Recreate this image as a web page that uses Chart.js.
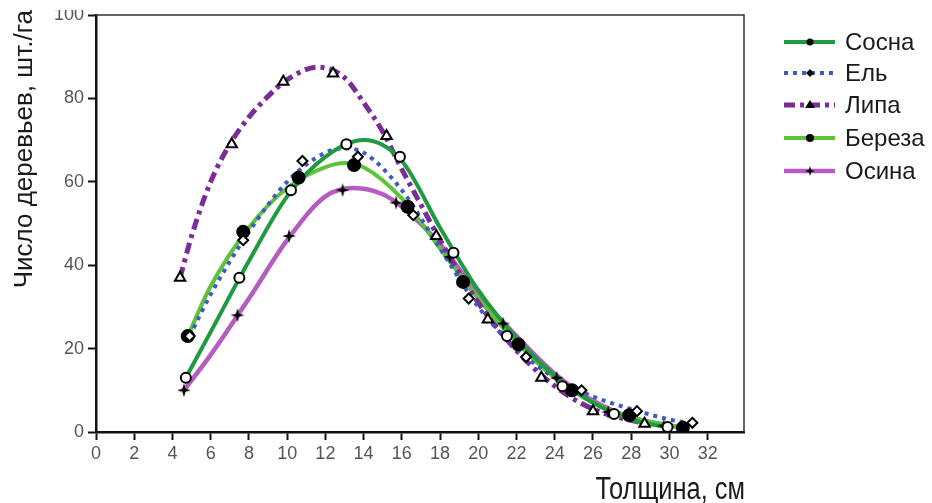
<!DOCTYPE html>
<html>
<head>
<meta charset="utf-8">
<script src="https://cdn.jsdelivr.net/npm/chart.js@4"></script>
<style>
  html, body { margin: 0; padding: 0; background: #fff; }
  #wrap { width: 932px; height: 503px; }
</style>
</head>
<body>
<div id="wrap"><canvas id="chartTrees" width="932" height="503"></canvas></div>
<script>
// точки (маркеры)
const sosnaX = [4.7, 7.5, 10.2, 13.1, 15.9, 18.7, 21.5, 24.4, 27.1, 29.9];
const sosnaY = [13, 37, 58, 69, 66, 43, 23, 11, 4.3, 1.2];
const elX = [4.9, 7.7, 10.8, 13.7, 16.6, 19.5, 22.5, 25.4, 28.3, 31.2];
const elY = [23, 46, 65, 66, 52, 32, 18, 10, 5, 2.2];
const lipaX = [4.4, 7.1, 9.8, 12.4, 15.2, 17.8, 20.5, 23.3, 26.0, 28.7];
const lipaY = [37, 69, 84, 86, 71, 47, 27, 13, 5, 2];
const berezaX = [4.8, 7.7, 10.6, 13.5, 16.3, 19.2, 22.1, 24.9, 27.9, 30.7];
const berezaY = [23, 48, 61, 64, 54, 36, 21, 10, 4, 1];
const osinaX = [4.6, 7.4, 10.1, 12.9, 15.7, 18.5, 21.3, 24.1, 26.8, 29.7];
const osinaY = [10, 28, 47, 58, 55, 42, 26, 13, 4.8, 1.5];

// сглаженные кривые
const sosnaCurveX = [4.7, 6, 8, 10, 12, 14, 16, 18, 20, 22, 24, 26, 28, 30];
const sosnaCurveY = [13, 24, 41, 56.5, 66, 70, 65, 49, 34, 22.5, 13.5, 7, 3, 1];
const elCurveX = [4.9, 6, 8, 10, 12, 13, 14, 16, 18, 20, 22, 24, 26, 28, 30, 31.2];
const elCurveY = [23, 33, 48, 60, 67, 68, 67, 58, 44, 30, 20, 13, 8.5, 5.5, 3, 2];
const lipaCurveX = [4.4, 5, 6, 7, 8, 9, 10, 11.6, 13, 14, 15, 16, 17, 18, 20, 22, 24, 26, 28.7];
const lipaCurveY = [37, 47, 60, 69, 75.5, 80.5, 84.5, 87.5, 85, 79, 72, 63, 54.5, 46, 31, 19.5, 11, 5.5, 2];
const berezaCurveX = [4.8, 6, 8, 10, 12, 13, 14, 16, 18, 20, 22, 24, 26, 28, 30.7];
const berezaCurveY = [23, 35, 49, 58.5, 63.5, 64.5, 63.5, 56, 44, 32, 21.5, 13, 7, 3.5, 1];
const osinaCurveX = [4.6, 6, 8, 10, 12, 13.5, 15, 16, 18, 20, 22, 24, 26, 28, 30.7];
const osinaCurveY = [10, 18.5, 32, 46, 56.5, 58.5, 57, 54, 45, 33, 23, 14, 7.5, 3.5, 1];

const xTicks = [0, 2, 4, 6, 8, 10, 12, 14, 16, 18, 20, 22, 24, 26, 28, 30, 32];
const yTicks = [0, 20, 40, 60, 80, 100];
const names = ["Сосна", "Ель", "Липа", "Береза", "Осина"];

const pts = (xs, ys) => xs.map((x, i) => ({ x, y: ys[i] }));

function starImg(r) {
  const c = document.createElement("canvas");
  c.width = c.height = r * 2 + 2;
  const g = c.getContext("2d");
  const m = r + 1, ir = r * 0.32;
  g.beginPath();
  for (let i = 0; i < 8; i++) {
    const a = -Math.PI / 2 + i * Math.PI / 4;
    const rr = i % 2 === 0 ? r : ir;
    g.lineTo(m + rr * Math.cos(a), m + rr * Math.sin(a));
  }
  g.closePath();
  g.fillStyle = "#000";
  g.fill();
  return c;
}
const star = starImg(7);
const starSmall = starImg(5);

const series = [
  { name: names[0], color: "#1f9a3e", dash: [], width: 4, cx: sosnaCurveX, cy: sosnaCurveY, px: sosnaX, py: sosnaY,
    ps: "circle", pr: 5, bg: "#fff" },
  { name: names[1], color: "#3d5cc0", dash: [4, 5], width: 4, cx: elCurveX, cy: elCurveY, px: elX, py: elY,
    ps: "rectRot", pr: 5, bg: "#fff" },
  { name: names[2], color: "#7b2d97", dash: [11, 5, 4, 5], width: 5, cx: lipaCurveX, cy: lipaCurveY, px: lipaX, py: lipaY,
    ps: "triangle", pr: 6, bg: "#fff" },
  { name: names[3], color: "#5dc43a", dash: [], width: 4, cx: berezaCurveX, cy: berezaCurveY, px: berezaX, py: berezaY,
    ps: "circle", pr: 6, bg: "#000" },
  { name: names[4], color: "#b45cbf", dash: [], width: 4.5, cx: osinaCurveX, cy: osinaCurveY, px: osinaX, py: osinaY,
    ps: star, pr: 7, bg: "#000" },
];

const datasets = [];
series.forEach((s) => {
  datasets.push({
    label: s.name, data: pts(s.cx, s.cy), showLine: true, borderColor: s.color, borderWidth: s.width,
    borderDash: s.dash, pointRadius: 0, cubicInterpolationMode: "monotone", order: 2,
  });
});
series.forEach((s) => {
  datasets.push({
    label: s.name + " точки", data: pts(s.px, s.py), showLine: false, pointStyle: s.ps, pointRadius: s.pr,
    pointBackgroundColor: s.bg, pointBorderColor: "#000", pointBorderWidth: 2, order: 1,
  });
});

const decor = {
  id: "decor",
  beforeDatasetsDraw(chart) {
    const { ctx, chartArea: a } = chart;
    ctx.save();
    ctx.strokeStyle = "#333";
    ctx.lineWidth = 1.5;
    ctx.beginPath();
    ctx.moveTo(a.left, a.top);
    ctx.lineTo(a.right, a.top);
    ctx.lineTo(a.right, a.bottom);
    ctx.stroke();
    ctx.restore();
  },
  afterDraw(chart) {
    const ctx = chart.ctx;
    ctx.save();
    // верх подписи "100" срезан, как в оригинале
    ctx.fillStyle = "#fff";
    ctx.fillRect(50, 0, 40, 10);
    // легенда
    const rows = [42, 73, 105, 138, 171];
    series.forEach((s, i) => {
      const y = rows[i];
      ctx.strokeStyle = s.color;
      ctx.lineWidth = s.width;
      ctx.setLineDash(s.dash);
      ctx.beginPath();
      ctx.moveTo(784, y);
      ctx.lineTo(835, y);
      ctx.stroke();
      ctx.setLineDash([]);
      ctx.fillStyle = "#000";
      const mx = 810;
      if (i === 4) {
        ctx.drawImage(starSmall, mx - 6, y - 6);
      } else if (i === 2) {
        ctx.beginPath();
        ctx.moveTo(mx, y - 5);
        ctx.lineTo(mx + 5, y + 3);
        ctx.lineTo(mx - 5, y + 3);
        ctx.closePath();
        ctx.fill();
      } else if (i === 1) {
        ctx.beginPath();
        ctx.moveTo(mx, y - 4);
        ctx.lineTo(mx + 4, y);
        ctx.lineTo(mx, y + 4);
        ctx.lineTo(mx - 4, y);
        ctx.closePath();
        ctx.fill();
      } else {
        ctx.beginPath();
        ctx.arc(mx, y, i === 0 ? 3.5 : 4, 0, Math.PI * 2);
        ctx.fill();
      }
      ctx.fillStyle = "#1a1a1a";
      ctx.font = "24px 'Liberation Sans', Arial, sans-serif";
      ctx.textAlign = "left";
      ctx.textBaseline = "middle";
      ctx.fillText(s.name, 845, y + 1);
    });
    // подписи осей
    ctx.fillStyle = "#1a1a1a";
    ctx.save();
    ctx.translate(745, 499);
    ctx.scale(0.82, 1);
    ctx.font = "31px 'Liberation Sans', Arial, sans-serif";
    ctx.textAlign = "right";
    ctx.textBaseline = "alphabetic";
    ctx.fillText("Толщина, см", 0, 0);
    ctx.restore();
    ctx.translate(32, 10);
    ctx.rotate(-Math.PI / 2);
    ctx.font = "26px 'Liberation Sans', Arial, sans-serif";
    ctx.textAlign = "right";
    ctx.textBaseline = "alphabetic";
    ctx.fillText("Число деревьев, шт./га", 0, 0);
    ctx.restore();
  },
};

const tickFont = { family: "'Liberation Sans Narrow', 'Liberation Sans', sans-serif", size: 18 };

new Chart(document.getElementById("chartTrees").getContext("2d"), {
  type: "scatter",
  data: { datasets },
  options: {
    responsive: false,
    devicePixelRatio: 1,
    animation: false,
    layout: { padding: { left: 0, right: 188, top: 15, bottom: 0 } },
    plugins: { legend: { display: false }, tooltip: { enabled: false } },
    scales: {
      x: {
        type: "linear", min: 0, max: 33.9,
        afterBuildTicks: (sc) => { sc.ticks = xTicks.map((v) => ({ value: v })); },
        afterFit: (sc) => { sc.height = 71; },
        ticks: { font: tickFont, color: "#555", padding: 3, maxRotation: 0, autoSkip: false },
        grid: { drawOnChartArea: false, drawTicks: true, tickLength: 8, tickColor: "#111", tickWidth: 2 },
        border: { color: "#111", width: 2.5 },
      },
      y: {
        type: "linear", min: 0, max: 100,
        afterBuildTicks: (sc) => { sc.ticks = yTicks.map((v) => ({ value: v })); },
        afterFit: (sc) => { sc.width = 96; },
        ticks: { font: tickFont, color: "#555", padding: 4 },
        grid: { drawOnChartArea: false, drawTicks: true, tickLength: 8, tickColor: "#111", tickWidth: 2 },
        border: { color: "#111", width: 2.5 },
      },
    },
  },
  plugins: [decor],
});
</script>
</body>
</html>
